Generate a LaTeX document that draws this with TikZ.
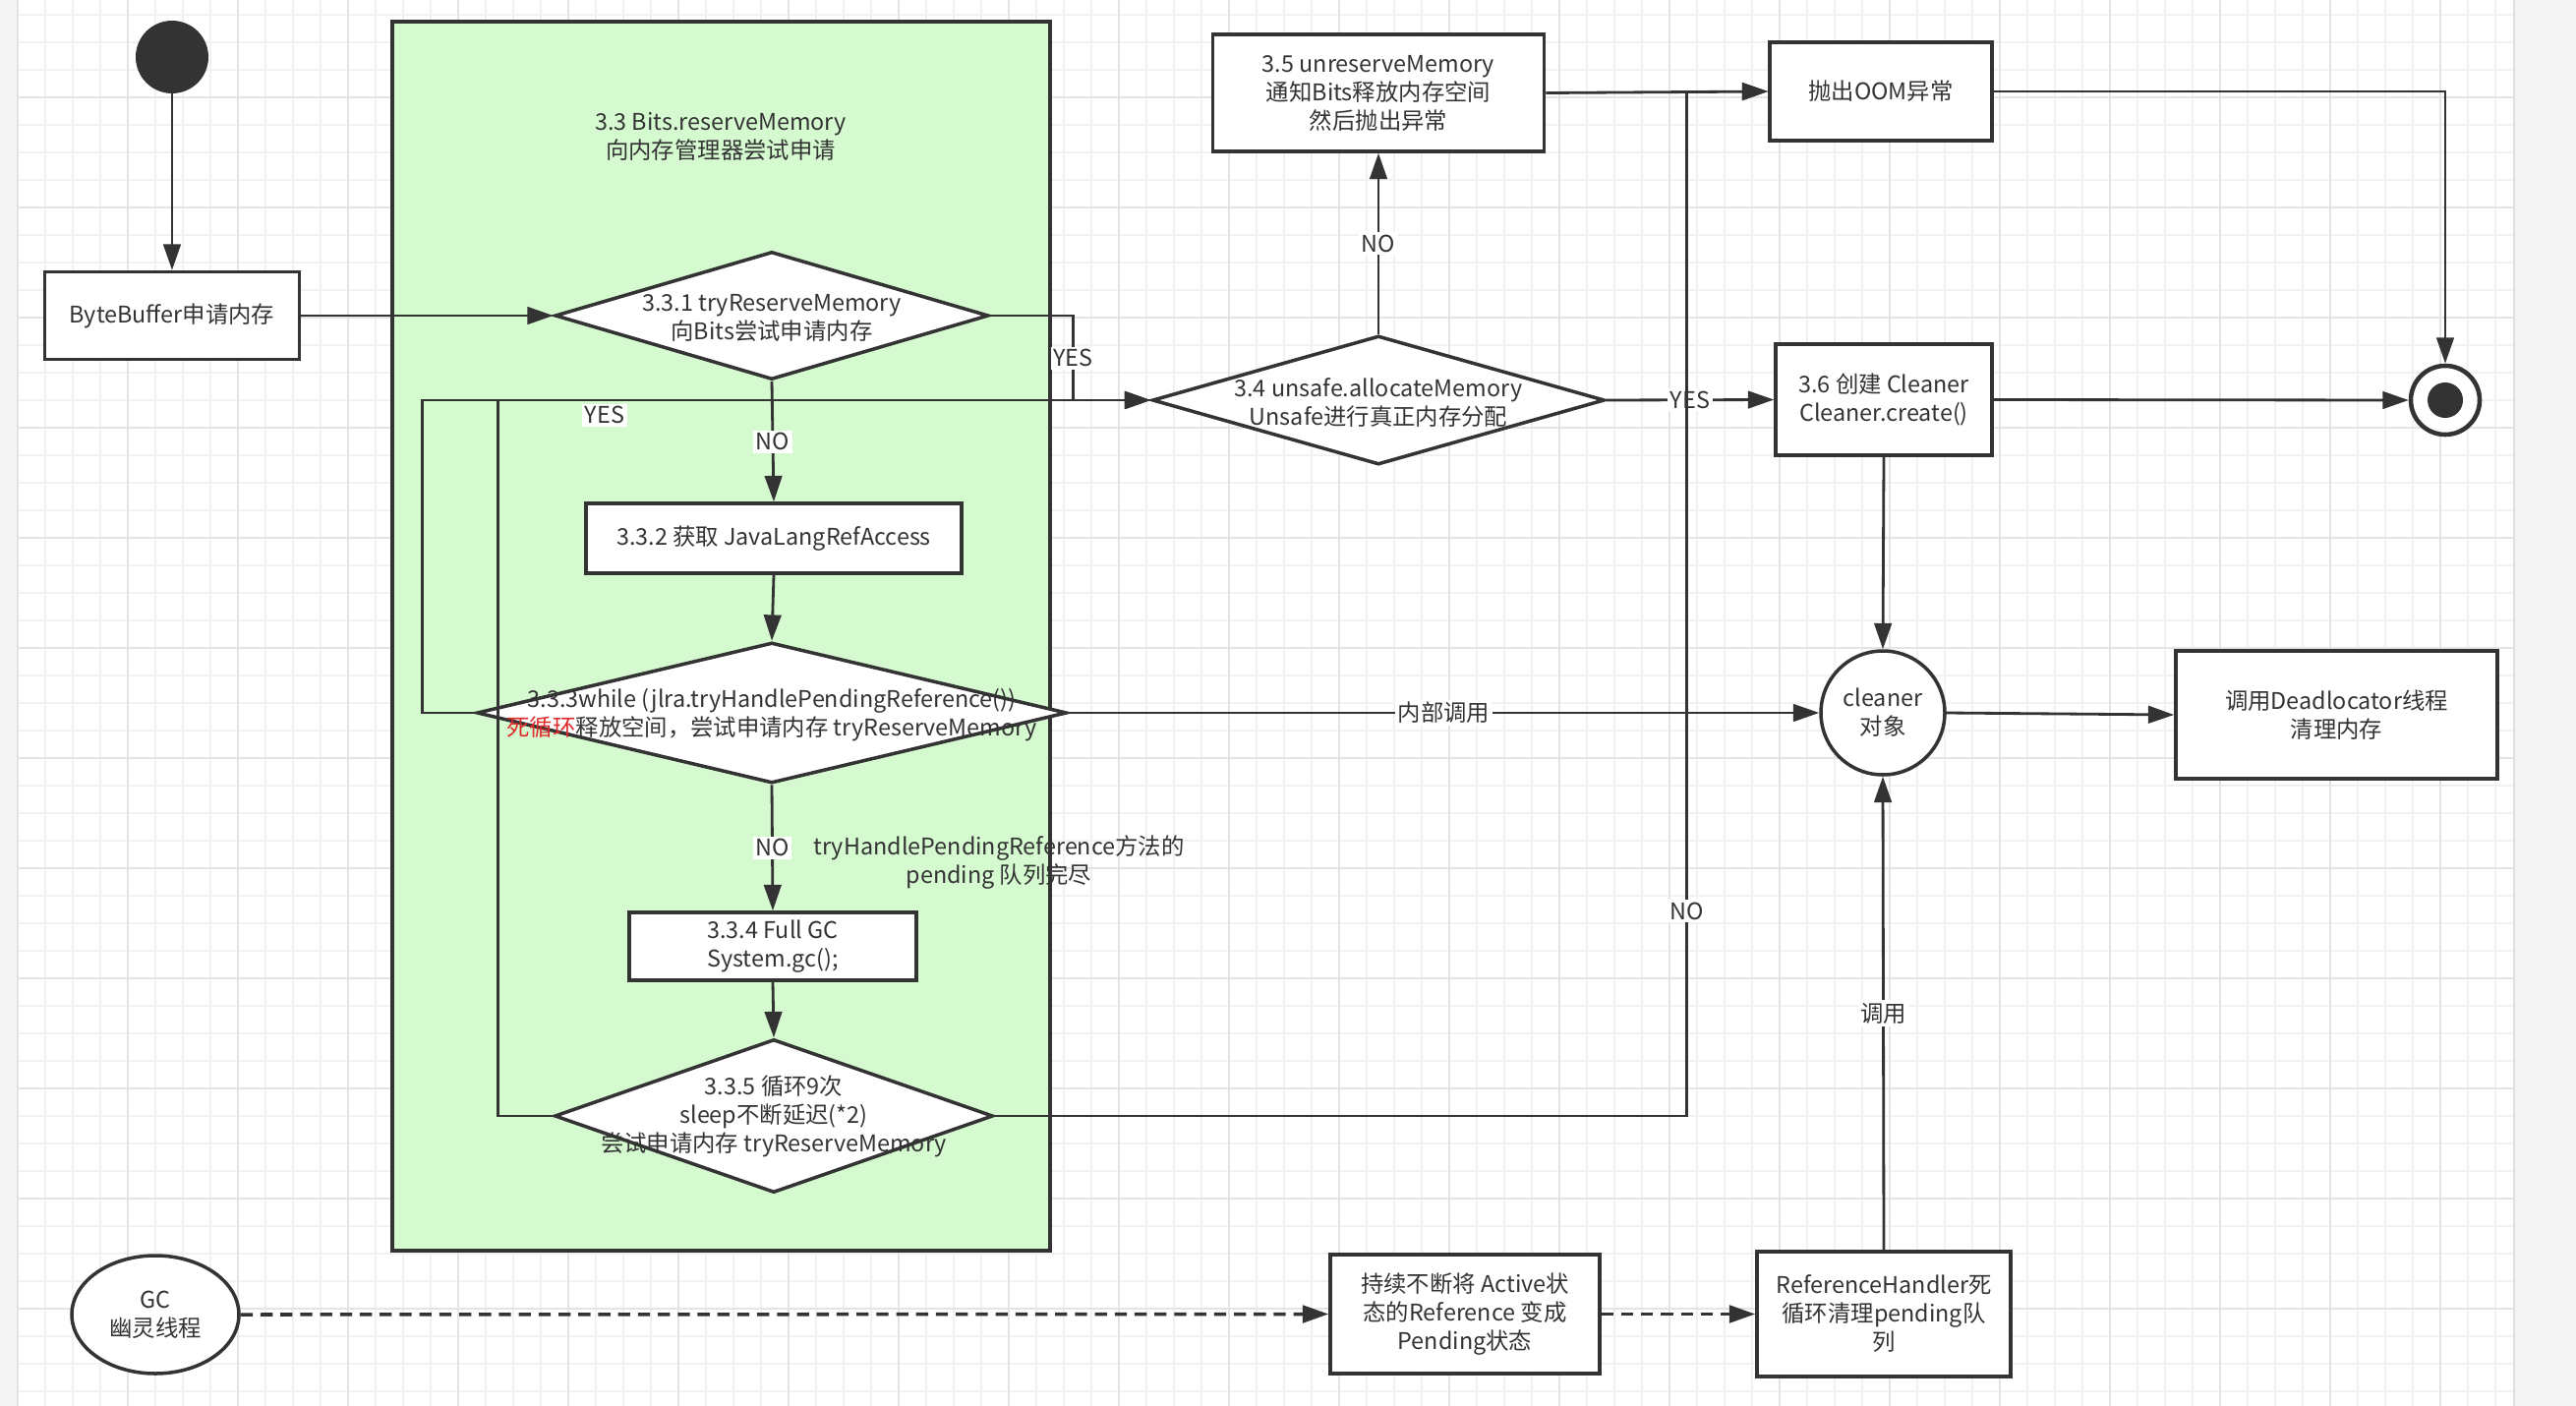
\documentclass[tikz,border=0pt]{standalone}
\usepackage{fontspec}
\setmainfont{Noto Sans CJK SC}
\usetikzlibrary{shapes.geometric,arrows.meta}

\definecolor{ink}{HTML}{333333}
\definecolor{lanegreen}{HTML}{D5FAD0}
\definecolor{gridminor}{HTML}{F1F1F1}
\definecolor{gridmajor}{HTML}{E4E4E4}
\definecolor{loopred}{HTML}{E02A2A}

\def\px{0.02cm}

\begin{document}
\begin{tikzpicture}[
    x=0.02cm, y=-0.02cm,
    font=\fontsize{13.3}{16.5}\selectfont, text=ink,
    sz/.style 2 args={minimum width=#1*\px, minimum height=#2*\px},
    box/.style={rectangle, draw=ink, line width=2pt, fill=white, align=center, inner sep=0pt},
    dia/.style={diamond, draw=ink, line width=2pt, fill=white, inner sep=0pt},
    txt/.style={align=center, inner sep=0pt},
    lbl/.style={fill=white, inner sep=1.5pt},
    conn/.style={draw=ink, line width=1.6pt, -{Triangle[length=15pt,width=10pt]}},
    dconn/.style={conn, dash pattern=on 7pt off 4.5pt, line width=2pt},
  ]
\useasboundingbox (0,0) rectangle (2620,1430);

  % Background grid
  \fill[white] (0,0) rectangle (2620,1430);
  \foreach \x in {18,46,...,2557}
  \draw[gridminor, line width=0.7pt] (\x,0) -- (\x,1430);
  \foreach \y in {15,43,...,1430}
  \draw[gridminor, line width=0.7pt] (17,\y) -- (2557,\y);
  \foreach \x in {18,130,...,2557}
  \draw[gridmajor, line width=1.4pt] (\x,0) -- (\x,1430);
  \foreach \y in {99,211,...,1430}
  \draw[gridmajor, line width=1.4pt] (17,\y) -- (2557,\y);
  \fill[gray!9] (0,0) rectangle (17,1430);
  \fill[gray!9] (2557,0) rectangle (2620,1430);
  \draw[gray!25, line width=1pt] (2557,0) -- (2557,1430);

  % Swimlane 3.3
  \node[rectangle, draw=ink, line width=1.8pt, fill=lanegreen, sz={669}{1250}] (lane) at (733.5,647) {};
  \node[txt] (lanetitle) at (733,139) {3.3 Bits.reserveMemory\\向内存管理器尝试申请};

  % Start and end
  \node[circle, fill=ink, inner sep=0pt, minimum size=74*\px] (start) at (175,58) {};
  \node[circle, draw=ink, line width=2.6pt, fill=white, minimum size=70*\px] (endc) at (2487,407) {};
  \node[circle, fill=ink, inner sep=0pt, minimum size=36*\px] (endcore) at (endc) {};

  % Main flow
  \node[box, sz={259}{89}] (bb) at (175,321) {ByteBuffer申请内存};

  \node[dia, sz={441}{130}] (d331) at (785,321) {};
  \node[txt] (d331t) at (785,323) {3.3.1 tryReserveMemory\\向Bits尝试申请内存};

  \node[box, sz={382}{71}] (b332) at (787,547.5) {3.3.2 获取 JavaLangRefAccess};

  \node[dia, sz={600}{143}] (d333) at (785,725) {};
  \node[txt] (d333t) at (785,727) {3.3.3while (jlra.tryHandlePendingReference())\\{\color{loopred}死循环}释放空间，尝试申请内存 tryReserveMemory};

  \node[box, sz={292}{69}] (b334) at (786,962.5) {3.3.4 Full GC\\System.gc();};

  \node[dia, sz={446}{156}] (d335) at (787,1135) {};
  \node[txt] (d335t) at (787,1135) {3.3.5 循环9次\\sleep不断延迟(*2)\\尝试申请内存 tryReserveMemory};

  \node[txt] (note) at (1016,877) {tryHandlePendingReference方法的\\pending 队列完尽};

  \node[dia, sz={460}{131}] (d34) at (1402,407) {};
  \node[txt] (d34t) at (1402,410) {3.4 unsafe.allocateMemory\\Unsafe进行真正内存分配};

  \node[box, sz={337}{119}] (b35) at (1402,94.5) {3.5 unreserveMemory\\通知Bits释放内存空间\\然后抛出异常};
  \node[box, sz={226}{100}] (oom) at (1913,93) {抛出OOM异常};
  \node[box, sz={220}{113}] (b36) at (1916,406.5) {3.6 创建 Cleaner\\Cleaner.create()};

  \node[circle, draw=ink, line width=2pt, fill=white, align=center, inner sep=0pt, minimum size=126*\px] (cleaner) at (1915,725) {cleaner\\对象};
  \node[box, sz={327}{130}] (dealloc) at (2376.5,727) {调用Deadlocator线程\\清理内存};

  % GC thread row
  \node[ellipse, draw=ink, line width=2pt, fill=white, align=center, inner sep=0pt, sz={170}{120}] (gc) at (158,1337) {GC\\幽灵线程};
  \node[box, sz={274}{121}] (act) at (1490,1336.5) {持续不断将 Active状\\态的Reference 变成\\Pending状态};
  \node[box, sz={258}{127}] (rh) at (1916,1336.5) {ReferenceHandler死\\循环清理pending队\\列};

  \node[lbl] (yes333) at (615,422) {YES};

  % Connections
  \draw[conn] (start) -- (bb);
  \draw[conn] (bb.east) -- (d331.west);
  \draw[conn] (d331.south) -- node[lbl] {NO} (b332.north);
  \draw[conn] (b332.south) -- (d333.north);
  \draw[conn] (d333.south) -- node[lbl] {NO} (b334.north);
  \draw[conn] (b334.south) -- (d335.north);

  \draw[conn] (d331.east) -- ++(84,0) coordinate (c331)
    -- node[lbl] {YES} (c331 |- d34.west) -- (d34.west);
  \draw[conn] (d333.west) -- ++(-54,0) coordinate (c333)
    -- (c333 |- d34.west) -- (d34.west);
  \draw[conn] (d335.west) -- ++(-56,0) coordinate (c335w)
    -- (c335w |- d34.west) -- (d34.west);

  \draw[conn] (d34.north) -- node[lbl] {NO} (b35.south);
  \draw[conn] (d34.east) -- node[lbl] {YES} (b36.west);
  \draw[conn] (b35.east) -- (oom.west);
  \draw[conn] (d335.east) -- ++(704,0) coordinate (c335e)
    -- node[lbl, pos=0.2] {NO} (c335e |- oom.west) -- (oom.west);
  \draw[conn] (oom.east) -| (endc.north);
  \draw[conn] (b36.east) -- (endc.west);
  \draw[conn] (b36.south) -- (cleaner.north);
  \draw[conn] (d333.east) -- node[lbl] {内部调用} (cleaner.west);
  \draw[conn] (cleaner.east) -- (dealloc.west);

  \draw[dconn] (gc.east) -- (act.west);
  \draw[dconn] (act.east) -- (rh.west);
  \draw[conn] (rh.north) -- node[lbl] {调用} (cleaner.south);

\end{tikzpicture}
\end{document}
